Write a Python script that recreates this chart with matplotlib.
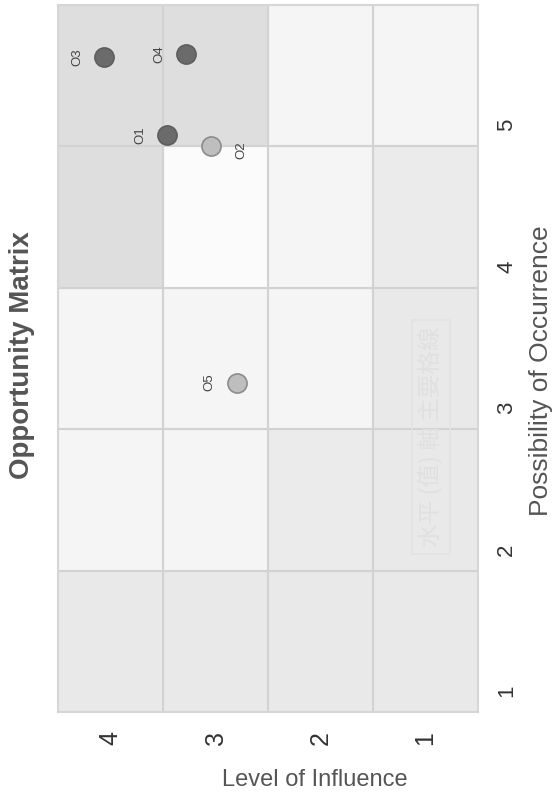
import matplotlib.pyplot as plt
from matplotlib.patches import Rectangle

# opportunities: (level of influence, possibility of occurrence)
nomes = ['O1', 'O2', 'O3', 'O4', 'O5']
influencia = [3.46, 3.04, 4.06, 3.28, 2.80]
possibilidade = [4.93, 4.85, 5.48, 5.50, 3.18]
destaque = [True, False, True, True, False]

niveis_influencia = [1, 2, 3, 4]
niveis_possibilidade = [1, 2, 3, 4, 5]

# shade of each cell, rows = possibility 1..5, cols = influence 1..4
tons = [
    ['#e9e9e9', '#e9e9e9', '#e9e9e9', '#e9e9e9'],
    ['#e9e9e9', '#ebebeb', '#f5f5f5', '#f5f5f5'],
    ['#e9e9e9', '#f5f5f5', '#f5f5f5', '#f5f5f5'],
    ['#ebebeb', '#f5f5f5', '#fbfbfb', '#dedede'],
    ['#f5f5f5', '#f5f5f5', '#dedede', '#dedede'],
]

plt.rcParams['font.family'] = ['Liberation Sans', 'DejaVu Sans']

fig = plt.figure(figsize=(5.57, 8.0), dpi=100)
ax = fig.add_axes([58/557, 1 - 712/800, 420/557, 707/800])

# cells: influence centred on the tick, possibility shifted
desloc = 0.15
for i, p in enumerate(niveis_possibilidade):
    for j, n in enumerate(niveis_influencia):
        ax.add_patch(Rectangle((n - 0.5, p - desloc), 1, 1,
                               facecolor=tons[i][j], edgecolor='#d2d2d2',
                               linewidth=1.5, zorder=1))

ax.set_xlim(4.5, 0.5)
ax.set_ylim(1 - desloc, 6 - desloc)

for x, y, nome, d in zip(influencia, possibilidade, nomes, destaque):
    cor = '#6b6b6b' if d else '#bebebe'
    borda = '#5e5e5e' if d else '#8c8c8c'
    ax.scatter(x, y, s=190, color=cor, edgecolor=borda, linewidth=1.2, zorder=3)
    dx = 22 if nome == 'O2' else -19.5
    dy = -3 if nome == 'O2' else 0
    ax.annotate(nome, (x, y), xytext=(dx, dy), textcoords='offset points',
                rotation=90, ha='center', va='center', fontsize=9.5,
                color='#444444', zorder=4)

ax.set_xticks(niveis_influencia)
ax.set_xticklabels([str(v) for v in niveis_influencia], rotation=90)
ax.yaxis.tick_right()
ax.set_yticks(niveis_possibilidade)
ax.set_yticklabels([str(v) for v in niveis_possibilidade], rotation=90, va='center')
ax.tick_params(length=0, colors='#333333')
ax.tick_params(axis='x', labelsize=18, pad=14)
ax.tick_params(axis='y', labelsize=16, pad=13)

for s in ax.spines.values():
    s.set_color('#d6d6d6')
    s.set_linewidth(1.5)

fig.text(315/557, 1 - 780/800, 'Level of Influence', ha='center', va='center',
         fontsize=17, color='#555555')
fig.text(541/557, 1 - 371/800, 'Possibility of Occurrence', ha='center', va='center',
         rotation=90, fontsize=19, color='#555555')
fig.text(22/557, 1 - 355/800, 'Opportunity Matrix', ha='center', va='center',
         rotation=90, fontsize=20, fontweight='bold', color='#555555')

# faint gridline caption box
fig.text(431/557, 1 - 437/800, '水平 (值) 軸 主要格線', ha='center', va='center',
         rotation=90, fontsize=17, color='#e0e0e0',
         family=['Noto Sans CJK TC', 'DejaVu Sans'],
         bbox=dict(boxstyle='square,pad=0.3', facecolor='none', edgecolor='#e2e2e2', linewidth=1.2))

fig.savefig('out.png', dpi=100)
